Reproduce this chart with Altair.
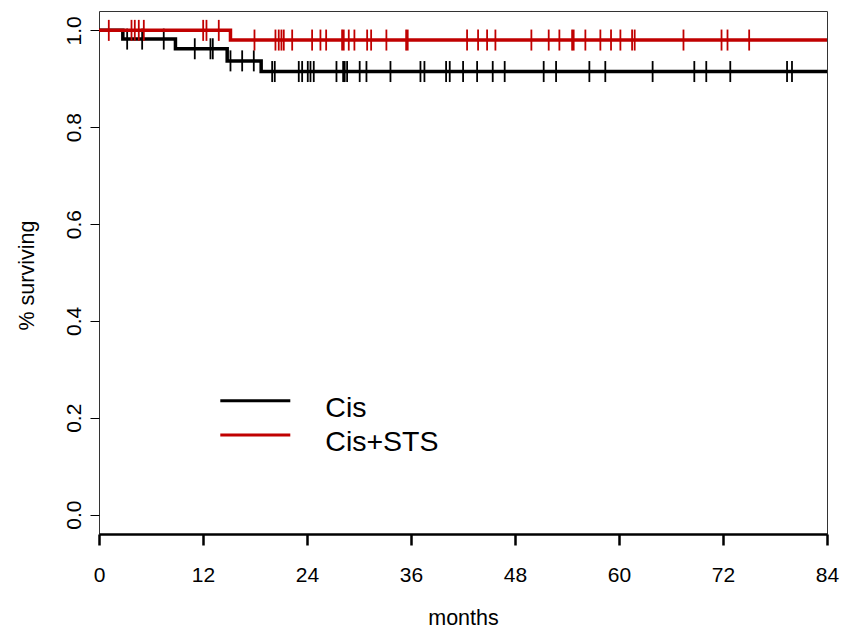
import altair as alt
import pandas as pd
import numpy as np

# ---- data ----
series = ["Cis", "Cis+STS"]
colors = ["#000000", "#C00000"]

cis_step_times = [0, 2.75, 8.82, 14.79, 18.71, 84]
cis_step_surv = [1.0, 0.982, 0.962, 0.937, 0.915, 0.915]

sts_step_times = [0, 15.17, 84]
sts_step_surv = [1.0, 0.980, 0.980]

cis_censor = [3.25, 4.98, 7.47, 11.05, 12.86, 13.13, 15.17, 16.52, 17.86, 19.98,
              20.28, 23.05, 23.44, 24.09, 24.40, 24.78, 27.40, 28.17, 28.35, 28.63,
              30.08, 30.86, 33.63, 37.09, 37.55, 40.05, 40.47, 42.01, 43.63, 45.43,
              46.81, 51.31, 52.74, 56.58, 58.42, 63.88, 68.69, 70.07, 72.84, 79.39,
              79.96]
sts_censor = [1.13, 3.75, 4.13, 4.59, 5.17, 12.02, 12.40, 13.82, 17.94, 20.36,
              20.74, 21.05, 21.32, 22.29, 24.59, 25.55, 26.21, 28.05, 28.24, 28.82,
              29.47, 30.94, 31.40, 33.16, 35.44, 35.62, 42.47, 43.74, 44.78, 45.74,
              49.89, 51.89, 53.12, 54.59, 54.77, 56.12, 57.85, 59.08, 60.16, 61.51,
              61.81, 67.44, 71.83, 72.52, 75.02]

x_ticks = [0, 12, 24, 36, 48, 60, 72, 84]
y_ticks = [0.0, 0.2, 0.4, 0.6, 0.8, 1.0]

FONT = "Liberation Sans"


def level_at(times, step_times, step_surv):
    idx = np.searchsorted(np.array(step_times), np.array(times), side="right") - 1
    return [step_surv[i] for i in idx]


x_scale = alt.Scale(domain=[0, 84], nice=False, zero=False)
y_scale = alt.Scale(domain=[-0.04, 1.04], nice=False, zero=False)

x_axis = alt.Axis(values=x_ticks, title="months", grid=False,
                  domainColor="black", domainWidth=2.5,
                  tickColor="black", tickWidth=2.5, tickSize=11,
                  labelFont=FONT, labelFontSize=21, labelColor="black",
                  labelPadding=19, labelFlush=False, labelOverlap=False,
                  titleFont=FONT, titleFontSize=21.5, titleFontWeight="normal",
                  titleColor="black", titleY=90, titleBaseline="alphabetic")
y_axis = alt.Axis(values=y_ticks, format=".1f", title="% surviving", grid=False,
                  domain=False, tickColor="black", tickWidth=1, tickSize=9,
                  labelFont=FONT, labelFontSize=21, labelColor="black",
                  labelAngle=270, labelAlign="center", labelBaseline="alphabetic",
                  labelPadding=9.7, labelFlush=False, labelOverlap=False,
                  titleFont=FONT, titleFontSize=21.5, titleFontWeight="normal",
                  titleColor="black", titleAngle=270, titleAlign="center",
                  titleBaseline="alphabetic", titleX=-65.4, titleY=264)

X = lambda **kw: alt.X("months:Q", scale=x_scale, title="months", **kw)
Y = lambda **kw: alt.Y("surv:Q", scale=y_scale, title="% surviving", **kw)

layers = []
curves = [(cis_step_times, cis_step_surv, cis_censor),
          (sts_step_times, sts_step_surv, sts_censor)]
for i, (st, ss, cens) in enumerate(curves):
    line_df = pd.DataFrame({"months": st, "surv": ss})
    tick_df = pd.DataFrame({"months": cens, "surv": level_at(cens, st, ss)})
    if i == 0:
        enc = dict(x=X(axis=x_axis), y=Y(axis=y_axis))
    else:
        enc = dict(x=X(), y=Y())
    line = alt.Chart(line_df).mark_line(
        interpolate="step-after", color=colors[i], strokeWidth=3.5, clip=True
    ).encode(**enc)
    ticks = alt.Chart(tick_df).mark_tick(
        orient="vertical", size=21, thickness=1.8, color=colors[i], opacity=1
    ).encode(x=X(), y=Y())
    layers += [line, ticks]

# ---- legend (drawn by hand, as in the reference) ----
leg_rows = [(389.7, 405.7), (424.0, 440.0)]
for i, (ly, ty) in enumerate(leg_rows):
    lab_df = pd.DataFrame({"label": [series[i]]})
    rule = alt.Chart(lab_df).mark_rule(color=colors[i], strokeWidth=3).encode(
        x=alt.value(121.3), x2=alt.value(191.3), y=alt.value(ly))
    txt = alt.Chart(lab_df).mark_text(
        align="left", baseline="alphabetic", font=FONT, fontSize=28.5, color="black"
    ).encode(x=alt.value(226.3), y=alt.value(ty), text="label:N")
    layers += [rule, txt]

chart = alt.layer(*layers).properties(
    width=728, height=523,
    padding={"left": 91, "top": 3, "right": 15, "bottom": 96},
    autosize=alt.AutoSizeParams(type="none"),
    background="white",
).configure_view(stroke="#333333", strokeWidth=1)

chart.save("out.html", embed_options={"renderer": "svg", "actions": False})
